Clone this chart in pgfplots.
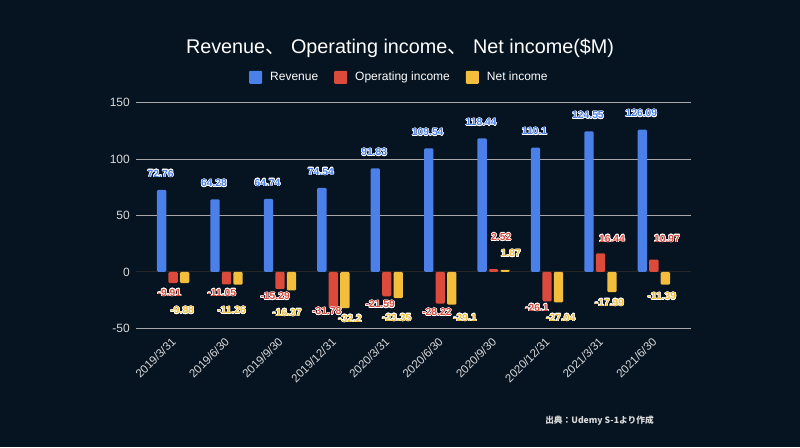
\documentclass[border=0pt]{standalone}
\usepackage{pgfplots}
\pgfplotsset{compat=1.18}
\usepackage{pgfplotstable}
\usepackage{fontspec}
\setmainfont{Liberation Sans}
\newfontfamily\cjk{Noto Sans CJK JP}
\usepackage[copies]{contour}
\contourlength{0.55pt}
\contournumber{16}
\definecolor{bg}{HTML}{061320}
\definecolor{cblue}{HTML}{4A80E8}
\definecolor{cred}{HTML}{DB4A3A}
\definecolor{cyel}{HTML}{F3BE3C}
\definecolor{txt}{HTML}{D9D9D9}
\definecolor{gridc}{HTML}{A8A8A8}

\pgfplotstableread{
x y dx dy
0 72.76 -1 16
1 64.28 -1 16
2 64.74 -1 16
3 74.54 -1 16
4 91.83 -1 16
5 109.54 -1 16
6 118.44 -1 16
7 110.1 -1 16
8 124.55 -1 16
9 126.09 -1 16
}\revtable

\pgfplotstableread{
x y dx dy
0 -9.91 -3.7 -9.8
1 -11.05 -4.7 -8.6
2 -15.29 -4.8 -7.2
3 -31.78 -6.5 -3.6
4 -21.59 -6.6 -8.4
5 -28.22 -3.3 -8.6
6 2.52 7.6 31.8
7 -26.1 -10.1 -6.6
8 16.44 11.5 14.5
9 10.97 13.1 20.7
}\optable

\pgfplotstableread{
x y dx dy
0 -9.88 -2.4 -27.3
1 -11.26 -6.4 -25.7
2 -16.37 -4.5 -22.6
3 -32.2 5.1 -10.7
4 -23.35 -1.6 -19.7
5 -29.1 13.3 -13.2
6 1.87 5.7 16.2
7 -27.04 2.3 -15.6
8 -17.99 -2.5 -10.7
9 -11.39 -3.5 -11.6
}\nettable

\pgfplotsset{
  lbl/.style={
    point meta=explicit symbolic,
    nodes near coords={\contour{white}{\pgfplotspointmeta}},
    visualization depends on={\thisrow{dx} \as \ldx},
    visualization depends on={\thisrow{dy} \as \ldy},
    every node near coord/.append style={anchor=center, text=#1,
      font=\bfseries\fontsize{10.3}{12}\selectfont, inner sep=0pt,
      xshift=\ldx, yshift=\ldy},
  },
}

\begin{document}
\begin{tikzpicture}
\fill[bg] (0,0) rectangle (800pt,447pt);
\useasboundingbox (0,0) rectangle (800pt,447pt);
\node[text=white, font=\fontsize{19.8}{23}\selectfont] at (400pt,398.7pt)
  {Revenue{\cjk 、}\hspace{6pt}Operating income{\cjk 、}\hspace{6pt}Net income(\$M)};
\node[text=txt, font=\cjk\bfseries\fontsize{8.7}{11}\selectfont] at (599.5pt,26.3pt)
  {出典：Udemy S-1より作成};
\begin{axis}[
  at={(136pt,118.7pt)}, anchor=south west,
  scale only axis, width=555pt, height=225.6pt,
  xmin=-0.695, xmax=9.695, ymin=-50, ymax=150,
  ybar=2.2pt, bar width=9.3pt,
  axis line style={draw=none},
  major tick length=0pt,
  ytick={-50,0,50,100,150},
  ymajorgrids, grid style={gridc, line width=1pt},
  xtick={0,...,9},
  xticklabels={2019/3/31,2019/6/30,2019/9/30,2019/12/31,2020/3/31,2020/6/30,2020/9/30,2020/12/31,2021/3/31,2021/6/30},
  xticklabel style={xshift=3pt, yshift=-9pt, rotate=45, anchor=east, text=txt, font=\fontsize{11.5}{13}\selectfont},
  yticklabel style={text=txt, font=\fontsize{12}{14}\selectfont, inner sep=0pt, xshift=-6pt},
  /pgf/number format/assume math mode=true,
  legend style={at={(0.4746,1.1126)}, anchor=center, draw=none, fill=none,
    text=white, font=\fontsize{12}{14}\selectfont,
    /tikz/every odd column/.append style={column sep=6pt},
    /tikz/every even column/.append style={column sep=14pt}},
  legend columns=3,
  legend image code/.code={\fill[#1, rounded corners=1pt] (0pt,-6.5pt) rectangle (13pt,6.5pt);},
  clip=false,
]
\draw[color=black!85!white, line width=1pt] (axis cs:-0.695,0) -- (axis cs:9.695,0);
\addplot[fill=cblue, draw=none, rounded corners=1.2pt, lbl=cblue] table[x=x, y=y, meta=y] {\revtable};
\addplot[fill=cred, draw=none, rounded corners=1.2pt, lbl=cred] table[x=x, y=y, meta=y] {\optable};
\addplot[fill=cyel, draw=none, rounded corners=1.2pt, lbl=cyel] table[x=x, y=y, meta=y] {\nettable};
\legend{Revenue, Operating income, Net income}
\end{axis}
\end{tikzpicture}
\end{document}
